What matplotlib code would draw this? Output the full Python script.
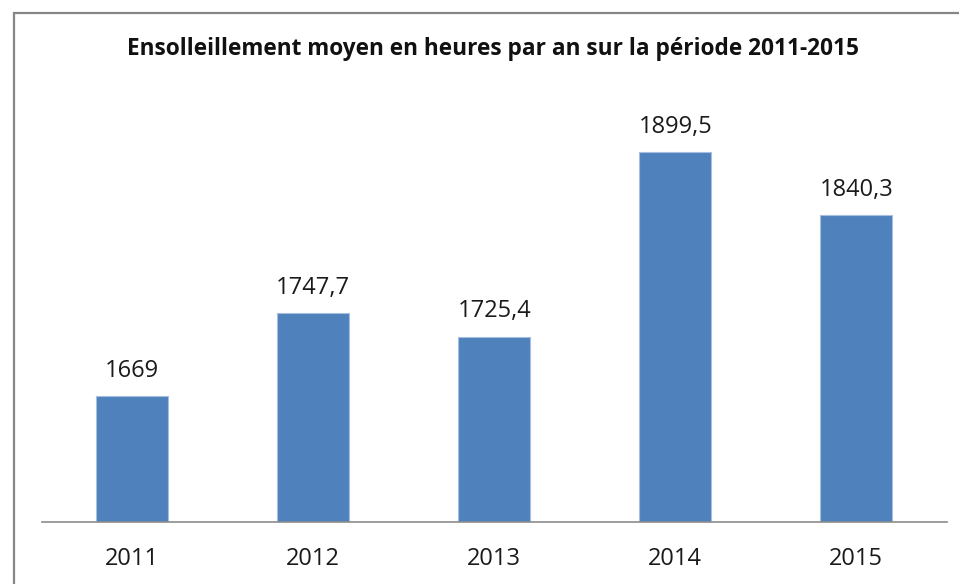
import matplotlib.pyplot as plt
from matplotlib.patches import Rectangle

years = ['2011', '2012', '2013', '2014', '2015']
hours = [1669, 1747.7, 1725.4, 1899.5, 1840.3]
labels = ['1669', '1747,7', '1725,4', '1899,5', '1840,3']

plt.rcParams['font.family'] = ['Open Sans', 'DejaVu Sans']

W, H = 959, 584
fig = plt.figure(figsize=(W / 100, H / 100), dpi=100)
ax = fig.add_axes([41.7 / W, 1 - 522 / H, 905 / W, (522 - 46.2) / H])

x = range(len(years))
bars = ax.bar(x, hours, width=0.4, color='#4F81BD', edgecolor='#A7BFDE', linewidth=0.8, bottom=0)
ax.set_ylim(1550, 2000)
ax.set_xlim(-0.5, len(years) - 0.5)

for b, lab in zip(bars, labels):
    ax.annotate(lab, (b.get_x() + b.get_width() / 2, b.get_height()),
                xytext=(0, 9.5), textcoords='offset points',
                ha='center', va='bottom', fontsize=17, color='#1a1a1a')

ax.set_xticks(list(x))
ax.set_xticklabels(years, fontsize=17, color='#1a1a1a')
ax.tick_params(axis='x', length=0, pad=18)
ax.set_yticks([])
for side in ['left', 'right', 'top']:
    ax.spines[side].set_visible(False)
ax.spines['bottom'].set_color('#8c8c8c')
ax.spines['bottom'].set_linewidth(1.2)

fig.text(493 / W, 1 - 49 / H, 'Ensolleillement moyen en heures par an sur la période 2011-2015',
         ha='center', va='center', fontsize=16.3, fontweight='bold', color='#111111')

# outer chart border (only top and left visible)
fig.patches.append(Rectangle((13.5 / W, -0.1), 2, 1 - 12.5 / H + 0.1, fill=False,
                             edgecolor='#868686', linewidth=1.6, transform=fig.transFigure))

fig.savefig('out.png', dpi=100)
